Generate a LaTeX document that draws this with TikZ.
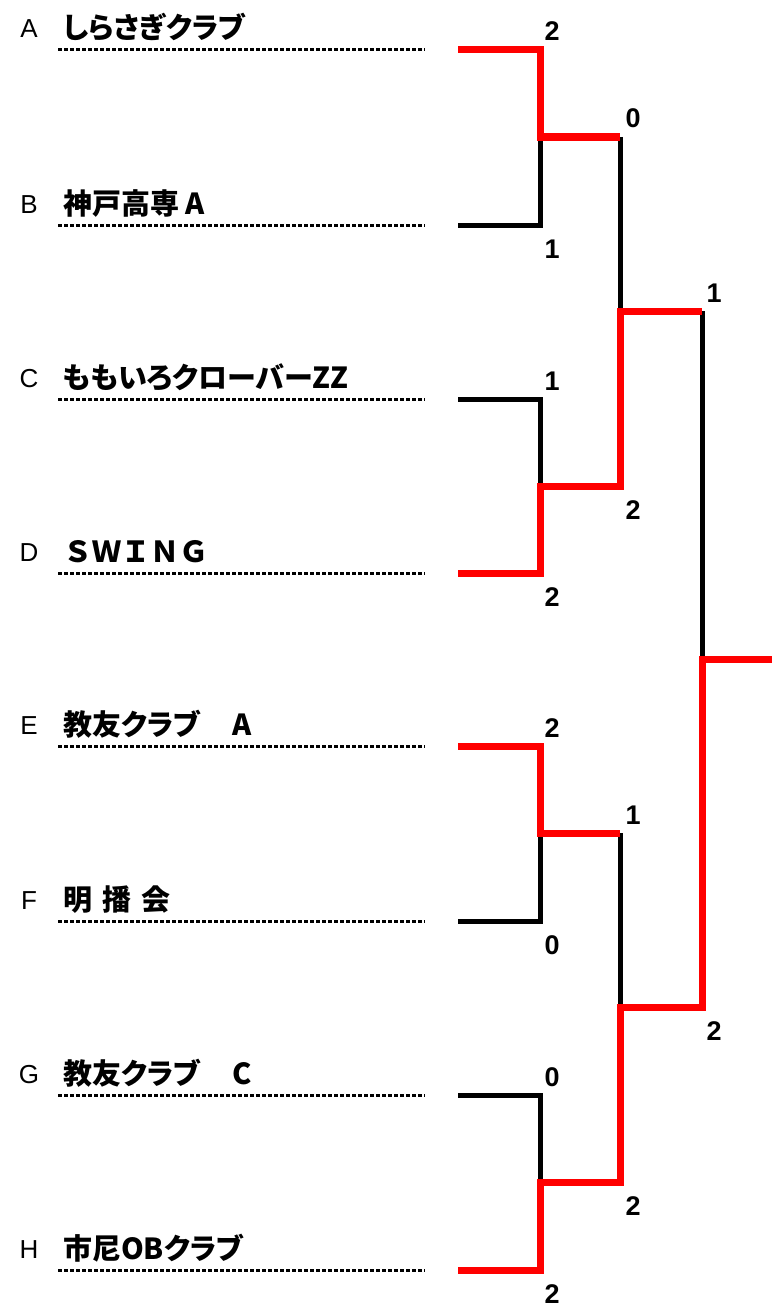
\documentclass[tikz,border=0pt]{standalone}
\usepackage{fontspec}
\setmainfont{Liberation Sans}
\newfontfamily\namefont[RawFeature=+palt]{Noto Sans CJK JP}
\newfontfamily\widefont{Noto Sans CJK JP}
\begin{document}
\begin{tikzpicture}[x=1pt, y=-1pt, line join=miter,
	seed/.style={anchor=base, inner sep=0pt, font=\fontsize{26}{26}\selectfont},
	team/.style={anchor=base west, inner sep=0pt, font=\fontsize{29}{29}\selectfont\namefont\bfseries},
	score/.style={anchor=base, inner sep=0pt, font=\fontsize{27}{27}\selectfont\bfseries},
	rule/.style={line width=3pt, dash pattern=on 4pt off 2pt},
	lose/.style={line width=5pt},
	win/.style={line width=7pt, red}]
		\useasboundingbox (0,0) rectangle (772,1311);
		% entries
		\node[seed] (lA) at (29,38) {A};  \node[team] (nA) at (63,39) {しらさぎクラブ};
		\node[seed] (lB) at (29,213) {B}; \node[team] (nB) at (63,214) {神戸高専 A};
		\node[seed] (lC) at (29,387) {C}; \node[team] (nC) at (63,388) {ももいろクローバーZZ};
		\node[seed] (lD) at (29,561) {D}; \node[team] (nD) at (63,562) {\widefont ＳＷＩＮＧ};
		\node[seed] (lE) at (29,734) {E}; \node[team] (nE) at (63,735) {教友クラブ\hspace{1.1em}A};
		\node[seed] (lF) at (29,909) {F}; \node[team] (nF) at (63,910) {明\hspace{0.35em}播\hspace{0.35em}会};
		\node[seed] (lG) at (29,1083) {G}; \node[team] (nG) at (63,1084) {教友クラブ\hspace{1.1em}C};
		\node[seed] (lH) at (29,1258) {H}; \node[team] (nH) at (63,1259) {市尼OBクラブ};
		\draw[rule] (58,50) -- (425,50);
		\draw[rule] (58,225) -- (425,225);
		\draw[rule] (58,399) -- (425,399);
		\draw[rule] (58,573) -- (425,573);
		\draw[rule] (58,746) -- (425,746);
		\draw[rule] (58,921) -- (425,921);
		\draw[rule] (58,1095) -- (425,1095);
		\draw[rule] (58,1270) -- (425,1270);
		% bracket points
		\coordinate (pA) at (458,50);   \coordinate (pB) at (458,225);
		\coordinate (pC) at (458,399);  \coordinate (pD) at (458,573);
		\coordinate (pE) at (458,746);  \coordinate (pF) at (458,921);
		\coordinate (pG) at (458,1095); \coordinate (pH) at (458,1270);
		\coordinate (m1) at (540,137);  \coordinate (m2) at (540,486);
		\coordinate (m3) at (540,833);  \coordinate (m4) at (540,1182);
		\coordinate (q1) at (620,137);  \coordinate (q2) at (620,486);
		\coordinate (q3) at (620,833);  \coordinate (q4) at (620,1182);
		\coordinate (s1) at (620,311);  \coordinate (s2) at (620,1007);
		\coordinate (r1) at (702,311);  \coordinate (r2) at (702,1007);
		\coordinate (f) at (702,659);   \coordinate (w) at (772,659);
		% losers
		\draw[lose] (pB) -| (m1);
		\draw[lose] (pC) -| (m2);
		\draw[lose] (pF) -| (m3);
		\draw[lose] (pG) -| (m4);
		\draw[lose] (q1) -- (s1);
		\draw[lose] (q3) -- (s2);
		\draw[lose] (r1) -- (f);
		% winners
		\draw[win] (pA) -| (m1) -- (q1);
		\draw[win] (pD) -| (m2) -- (q2) -- (s1) -- (r1);
		\draw[win] (pE) -| (m3) -- (q3);
		\draw[win] (pH) -| (m4) -- (q4) -- (s2) -- (r2) -- (f) -- (w);
		% scores
		\node[score] (sA) at (552,41) {2};   \node[score] (sB) at (552,258) {1};
		\node[score] (sC) at (552,390) {1};  \node[score] (sD) at (552,606) {2};
		\node[score] (sE) at (552,737) {2};  \node[score] (sF) at (552,954) {0};
		\node[score] (sG) at (552,1086) {0}; \node[score] (sH) at (552,1303) {2};
		\node[score] (sAB) at (633,128) {0}; \node[score] (sCD) at (633,519) {2};
		\node[score] (sEF) at (633,824) {1}; \node[score] (sGH) at (633,1215) {2};
		\node[score] (sTop) at (714,302) {1}; \node[score] (sBot) at (714,1040) {2};
\end{tikzpicture}
\end{document}
